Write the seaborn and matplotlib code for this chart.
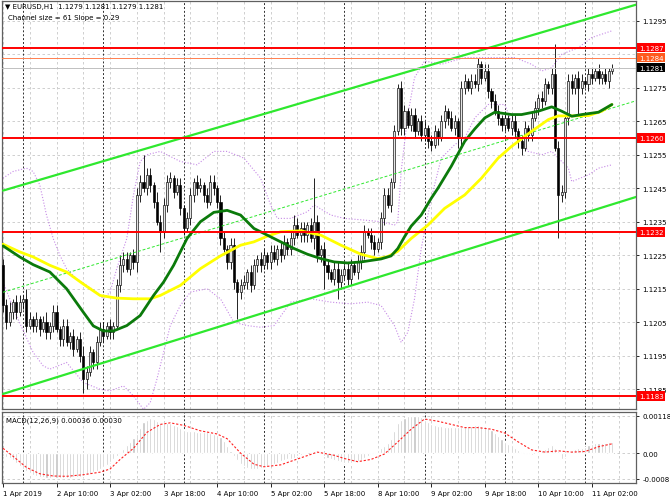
"""
EURUSD H1 chart with channel, moving averages, bands and MACD pane
"""

import numpy as np
import matplotlib
matplotlib.use("Agg")
import matplotlib.pyplot as plt
import matplotlib.transforms as mtrans
import seaborn as sns

# all price series are in pips above 1.1100
BASE = 1.1100

first_open = 122
closes = [
    110, 105, 108, 111, 108, 111, 112, 104, 106, 104,
    106, 103, 105, 102, 104, 108, 103, 100, 104, 99,
    101, 97, 100, 95, 88, 90, 96, 93, 99, 103,
    101, 104, 102, 104, 116, 122, 124, 121, 125, 123,
    143, 147, 145, 149, 146, 141, 135, 132, 140, 147,
    148, 144, 146, 139, 133, 136, 143, 147, 145, 146,
    143, 141, 147, 145, 141, 130, 127, 123, 128, 117,
    114, 116, 117, 120, 116, 122, 124, 122, 125, 123,
    126, 124, 127, 125, 129, 127, 130, 134, 131, 133,
    131, 134, 130, 135, 125, 127, 122, 120, 118, 121,
    117, 119, 121, 118, 122, 120, 123, 126, 132, 131,
    129, 127, 129, 136, 143, 140, 147, 162, 175, 163,
    168, 164, 167, 162, 165, 161, 163, 159, 158, 162,
    160, 165, 168, 166, 163, 165, 160, 175, 177, 175,
    177, 176, 182, 178, 180, 174, 171, 168, 166, 164,
    166, 163, 165, 162, 159, 157, 163, 161, 166, 169,
    172, 171, 176, 175, 179, 157, 143, 144, 166, 177,
    175, 178, 175, 177, 176, 179, 178, 180, 178, 179,
    177, 180, 181,
]
hi_wick = [
    2, 2, 3, 1, 2, 2, 1, 3, 2, 1,
    2, 1, 2, 3, 1, 2, 2, 1, 2, 2,
    1, 2, 1, 2, 3, 2, 2, 1, 2, 2,
    2, 1, 2, 1, 2, 3, 2, 2, 1, 2,
    2, 2, 8, 2, 2, 1, 3, 2, 2, 2,
    2, 1, 2, 2, 1, 2, 2, 1, 2, 2,
    1, 2, 2, 2, 1, 2, 2, 1, 2, 2,
    1, 2, 2, 1, 2, 2, 1, 2, 2, 1,
    2, 2, 1, 2, 2, 1, 2, 3, 2, 2,
    2, 1, 2, 13, 2, 1, 2, 2, 1, 2,
    2, 2, 1, 2, 2, 1, 2, 2, 2, 1,
    2, 2, 1, 2, 2, 2, 1, 2, 1, 2,
    2, 1, 2, 2, 1, 2, 2, 1, 2, 2,
    1, 2, 2, 1, 2, 2, 1, 2, 2, 1,
    2, 2, 2, 1, 2, 2, 1, 2, 2, 1,
    2, 1, 2, 2, 1, 2, 2, 1, 2, 2,
    1, 2, 2, 1, 2, 9, 2, 2, 1, 2,
    2, 1, 2, 2, 1, 2, 2, 1, 2, 1,
    2, 1, 1,
]
lo_wick = [
    2, 2, 1, 2, 2, 1, 2, 2, 1, 2,
    2, 2, 1, 2, 2, 2, 1, 2, 2, 1,
    2, 2, 1, 2, 4, 3, 1, 2, 2, 1,
    2, 1, 2, 2, 1, 2, 2, 1, 2, 2,
    3, 2, 1, 2, 2, 2, 1, 6, 2, 2,
    2, 2, 1, 2, 2, 1, 2, 2, 2, 1,
    2, 2, 1, 2, 2, 2, 1, 2, 2, 2,
    8, 2, 1, 2, 2, 1, 2, 2, 1, 2,
    2, 1, 2, 2, 1, 2, 2, 2, 1, 2,
    2, 2, 1, 3, 2, 2, 7, 2, 1, 2,
    5, 2, 1, 2, 2, 1, 2, 2, 2, 1,
    2, 2, 1, 2, 2, 1, 2, 2, 1, 2,
    2, 1, 2, 2, 1, 2, 2, 2, 2, 1,
    2, 1, 2, 2, 1, 2, 3, 2, 2, 1,
    2, 1, 2, 2, 1, 2, 2, 1, 2, 2,
    2, 1, 2, 2, 2, 2, 1, 2, 2, 1,
    2, 2, 1, 2, 2, 1, 13, 2, 2, 2,
    2, 2, 8, 2, 1, 2, 2, 1, 2, 2,
    1, 2, 1,
]

# moving averages / bands read at a subset of bars
green_bars = [0, 5, 9, 14, 19, 24, 27, 30, 33, 37, 41, 45, 48, 51, 55, 59, 63, 67,
              71, 75, 79, 83, 87, 91, 95, 99, 103, 107, 111, 113, 116, 118, 120,
              122, 125, 128, 130, 134, 138, 141, 144, 147, 152, 155, 160, 164, 167,
              170, 173, 178, 182]
green_vals = [127.8, 124.5, 122.2, 120, 115, 108, 103.9, 102.4, 102.4, 104, 107,
              113, 117, 122, 130, 135, 137.8, 138.4, 137, 133, 131, 129, 127, 125.3,
              124, 123, 122.7, 123, 123.6, 123.9, 124.8, 127, 130.5, 133.7, 137, 142,
              145, 151.6, 159, 162.7, 166, 167.7, 167, 167, 168, 169.3, 168, 166.5,
              167, 167.7, 170]

yellow_bars = [0, 5, 9, 14, 19, 24, 29, 34, 39, 44, 47, 53, 59, 65, 71, 75, 79, 83,
               89, 95, 101, 107, 112, 115, 118, 122, 127, 132, 138, 143, 148, 152,
               158, 163, 166, 170, 175, 179, 182]
yellow_vals = [128.3, 126, 124.5, 122, 120, 116.4, 113, 112.2, 112, 112, 113, 116,
               121, 124.8, 128, 129, 130.7, 132, 132.3, 131, 128, 125.3, 124, 124.6,
               126.2, 130, 134, 139, 143, 148, 154, 157.5, 162, 165.5, 166.6, 166.6,
               166.7, 168, 170]

upper_bars = [0, 3, 7, 9, 11, 13, 15, 17, 19, 22, 25, 28, 30, 32, 34, 37, 39, 41, 43,
              47, 53, 58, 63, 67, 72, 77, 80, 82, 86, 91, 93, 98, 102, 108, 113, 117,
              118, 119, 121, 123, 126, 131, 138, 146, 153, 158, 161, 164, 167, 172,
              176, 182]
upper_vals = [148, 150, 151, 150, 146, 137, 130, 125, 121, 118, 116, 114, 112, 114,
              121, 130, 143, 153, 155, 156, 153, 152, 156, 156, 154, 148, 140, 136,
              136, 138, 140, 137, 136, 135.5, 135, 134, 135, 150, 167, 178, 183, 182,
              184, 184, 184, 182, 180, 181, 185, 187, 190, 192]

lower_bars = [0, 4, 9, 12, 14, 19, 24, 29, 32, 36, 39, 42, 44, 46, 48, 50, 53, 56, 61,
              65, 69, 73, 77, 81, 86, 92, 98, 104, 109, 113, 117, 119, 121, 123, 125,
              128, 131, 135, 138, 141, 145, 150, 153, 157, 161, 164, 169, 170, 175,
              178, 182]
lower_vals = [117, 107, 96, 92, 91, 93, 87, 85, 84.5, 86, 83, 79, 81, 88, 96, 104, 110,
              114, 115, 112, 105, 104, 103.5, 104, 111, 112, 111, 110.5, 111, 110, 104,
              99, 102, 112, 127, 142, 154, 158, 160, 166, 170, 170, 162, 156, 155, 156,
              151, 147, 149, 151, 152]

# channel end points (bar, pips)
chan_x = [0, 189.2]
chan_upper = [144.3, 199.8]
chan_lower = [83.6, 142.4]

# horizontal levels
levels = [1.1287, 1.1260, 1.1232, 1.1183]
ask_level = 1.1284
bid_level = 1.1281

# MACD main (1e-5) for each bar, signal read at a subset of bars
macd = [
    -8, -12, -16, -22, -30, -40, -48, -55, -62, -67,
    -71, -74, -75, -76, -76, -75, -76, -77, -76, -77,
    -76, -75, -74, -74, -72, -68, -64, -60, -55, -50,
    -43, -36, -28, -18, -8, 5, 14, 25, 36, 48,
    62, 80, 98, 106, 111, 108, 103, 96, 94, 95,
    94, 90, 86, 80, 72, 69, 70, 69, 68, 68,
    67, 66, 64, 61, 57, 50, 38, 22, 8, -8,
    -20, -32, -40, -46, -49, -50, -48, -45, -43, -40,
    -37, -34, -29, -25, -22, -19, -17, -14, -9, -5,
    -2, 1, 4, 8, 3, -2, -7, -13, -18, -22,
    -24, -26, -29, -30, -29, -27, -25, -20, -14, -8,
    -2, 4, 10, 16, 24, 32, 45, 70, 96, 106,
    111, 116, 118, 119, 118, 113, 106, 98, 91, 88,
    86, 85, 84, 84, 83, 84, 83, 84, 86, 87,
    86, 88, 88, 87, 86, 80, 72, 64, 56, 46,
    36, 30, 26, 18, 11, 4, -2, -3, -4, 1,
    6, 10, 14, 20, 26, 18, 8, -19, -10, -2,
    11, 13, 16, 18, 21, 25, 31, 32, 33, 33,
    34, 35, 36,
]
sig_bars = [0, 3, 7, 11, 15, 19, 24, 29, 32, 35, 39, 43, 47, 50, 54, 59, 64, 67, 71,
            75, 78, 83, 89, 94, 99, 102, 106, 110, 114, 118, 122, 126, 130, 134,
            138, 142, 146, 150, 154, 158, 162, 166, 170, 174, 178, 182]
sig_vals = [16, -9, -44, -64, -71, -72, -67, -59, -49, -19, 16, 66, 91, 96, 88, 71,
            61, 46, 1, -34, -42, -36, -14, 4, -6, -16, -26, -19, -2, 36, 76, 108,
            101, 91, 81, 81, 76, 64, 36, 11, 4, 8, 4, 6, 21, 30]

x_tick_bars = [0, 16, 32, 48, 64, 80, 96, 112, 128, 144, 160, 176]
x_tick_labels = ["1 Apr 2019", "2 Apr 10:00", "3 Apr 02:00", "3 Apr 18:00",
                 "4 Apr 10:00", "5 Apr 02:00", "5 Apr 18:00", "8 Apr 10:00",
                 "9 Apr 02:00", "9 Apr 18:00", "10 Apr 10:00", "11 Apr 02:00"]
day_breaks = [6, 30, 54, 78, 102, 126, 150, 174]
price_ticks = [1.1185, 1.1195, 1.1205, 1.1215, 1.1225, 1.1235, 1.1245,
               1.1255, 1.1265, 1.1275, 1.1285, 1.1295]
hidden_ticks = [1.1285]     # sits under the price tags
macd_ticks = [0.00118, 0.0, -0.0008]
macd_tick_labels = ["0.00118", "0.00", "-0.0008"]

GRID = "#c8c8c8"
SEP = "#303030"
FS = 5


def px(v):
    return BASE + np.asarray(v, dtype=float) / 10000.0


def price_tag(ax, y, text, fc):
    trans = mtrans.blended_transform_factory(ax.transAxes, ax.transData)
    ax.text(1.0045, y, text, transform=trans, ha="left", va="center",
            fontsize=FS, color="white", clip_on=False, zorder=10,
            bbox=dict(boxstyle="square,pad=0.25", fc=fc, ec="none"))


sns.set_theme(style="white")
plt.rcParams["font.family"] = ["DejaVu Sans"]

W, H = 670, 502
fig = plt.figure(figsize=(W / 100, H / 100), dpi=100)
ax = fig.add_axes([2 / W, 1 - 410 / H, 634 / W, 408 / H])
axm = fig.add_axes([2 / W, 1 - 484 / H, 634 / W, 71 / H])

bars = np.arange(len(closes))
c = px(closes)
o = px([first_open] + closes[:-1])
top = np.maximum(o, c)
bot = np.minimum(o, c)
hi = top + np.array(hi_wick) / 10000.0
lo = bot - np.array(lo_wick) / 10000.0

# ── price pane ────────────────────────────────────────────────────────────────
ax.set_xlim(-0.3, 189.2)
ax.set_ylim(1.11791, 1.13009)
ax.set_xticks(np.arange(0, 190, 8))
ax.set_yticks(price_ticks)
ax.grid(True, color=GRID, ls=(0, (3, 3)), lw=0.6, zorder=0)
for b in day_breaks:
    ax.axvline(b, color=SEP, ls=(0, (2, 2)), lw=0.7, zorder=1)

ax.vlines(bars, lo, hi, color="black", lw=0.6, zorder=3)
bull = c >= o
body = np.maximum(top - bot, 0.000015)
ax.bar(bars[bull], body[bull], bottom=bot[bull], width=0.62, color="#e4e4e4",
       edgecolor="black", lw=0.45, zorder=3)
ax.bar(bars[~bull], body[~bull], bottom=bot[~bull], width=0.62, color="black",
       edgecolor="black", lw=0.45, zorder=3)

dot = (0, (1, 1.6))
sns.lineplot(x=upper_bars, y=px(upper_vals), ax=ax, color="#c68ae6", lw=0.8,
             linestyle=dot, zorder=2)
sns.lineplot(x=lower_bars, y=px(lower_vals), ax=ax, color="#c68ae6", lw=0.8,
             linestyle=dot, zorder=2)

sns.lineplot(x=chan_x, y=px(chan_upper), ax=ax, color="#2ee82e", lw=1.6, zorder=4)
sns.lineplot(x=chan_x, y=px(chan_lower), ax=ax, color="#2ee82e", lw=1.6, zorder=4)
sns.lineplot(x=chan_x, y=(px(chan_upper) + px(chan_lower)) / 2, ax=ax,
             color="#2ee82e", lw=0.7, linestyle=(0, (3, 2)), zorder=4)

sns.lineplot(x=yellow_bars, y=px(yellow_vals), ax=ax, color="#ffff00", lw=2.0, zorder=5)
sns.lineplot(x=green_bars, y=px(green_vals), ax=ax, color="#0b7a0b", lw=2.0, zorder=5)

for lv in levels:
    ax.axhline(lv, color="#ff0000", lw=1.4, zorder=6)
ax.axhline(ask_level, color="#ff8050", lw=0.7, zorder=6)
ax.axhline(bid_level, color="#c0c0c0", lw=0.7, zorder=6)

ax.yaxis.tick_right()
ax.set_yticklabels(["" if v in hidden_ticks else f"{v:.4f}" for v in price_ticks])
ax.tick_params(axis="y", length=2.5, width=0.6, pad=2, labelsize=FS,
               colors="black", right=True)
ax.tick_params(axis="x", length=0, labelbottom=False)
ax.set_xlabel("")
ax.set_ylabel("")

for lv in levels:
    price_tag(ax, lv, f"{lv:.4f}", "#ff0000")
price_tag(ax, ask_level, f"{ask_level:.4f}", "#ff5a1e")
price_tag(ax, bid_level, f"{bid_level:.4f}", "#000000")

# ── MACD pane ─────────────────────────────────────────────────────────────────
axm.set_xlim(-0.3, 189.2)
axm.set_ylim(-0.00093, 0.0013)
axm.set_xticks(x_tick_bars)
axm.set_xticklabels(x_tick_labels)
axm.set_xticks(np.arange(8, 190, 16), minor=True)
axm.set_yticks(macd_ticks)
axm.set_yticklabels(macd_tick_labels)
axm.grid(True, which="both", color=GRID, ls=(0, (3, 3)), lw=0.6, zorder=0)
for b in day_breaks:
    axm.axvline(b, color=SEP, ls=(0, (2, 2)), lw=0.7, zorder=1)

axm.bar(bars, np.array(macd) * 1e-5, width=0.62, color="#c4c4c4", zorder=2)
sns.lineplot(x=sig_bars, y=np.array(sig_vals) * 1e-5, ax=axm, color="#ff2020",
             lw=0.8, linestyle=(0, (2, 1.6)), zorder=3)

axm.yaxis.tick_right()
axm.tick_params(axis="y", length=2.5, width=0.6, pad=2, labelsize=FS,
                colors="black", right=True)
axm.tick_params(axis="x", which="major", length=3, width=0.6, pad=2,
                labelsize=FS, colors="black", bottom=True)
axm.tick_params(axis="x", which="minor", length=0)
for lbl in axm.get_xticklabels():
    lbl.set_ha("left")
axm.set_xlabel("")
axm.set_ylabel("")

for a in (ax, axm):
    for sp in a.spines.values():
        sp.set_color("#606060")
        sp.set_linewidth(0.9)

fig.text(5 / W, 1 - 7 / H, "\u25bc EURUSD,H1  1.1279 1.1281 1.1279 1.1281",
         fontsize=FS, va="center", ha="left", color="black")
fig.text(8 / W, 1 - 18 / H, "Channel size = 61 Slope = 0.29",
         fontsize=FS, va="center", ha="left", color="black")
fig.text(6 / W, 1 - 421 / H, "MACD(12,26,9) 0.00036 0.00030",
         fontsize=FS, va="center", ha="left", color="black")

fig.savefig("out.png", dpi=100)
